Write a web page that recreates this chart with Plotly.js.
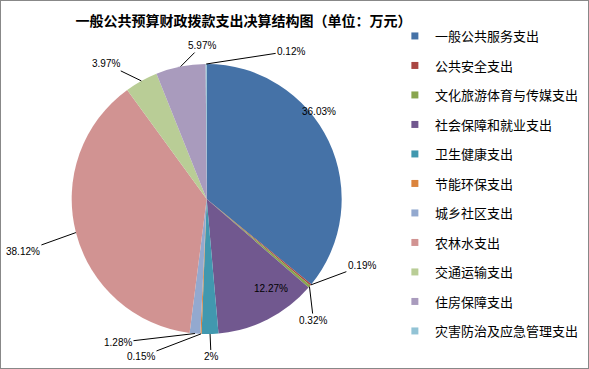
<!DOCTYPE html>
<html>
<head>
<meta charset="utf-8">
<script src="https://cdn.plot.ly/plotly-3.0.1.min.js"></script>
<style>
  html, body { margin: 0; padding: 0; background: #fff; }
  #chart { width: 587px; height: 367px; border: 1px solid #888888; }
</style>
</head>
<body>
<div id="chart"></div>
<script>
// ---- data ----
const categories = ['一般公共服务支出', '公共安全支出', '文化旅游体育与传媒支出', '社会保障和就业支出',
  '卫生健康支出', '节能环保支出', '城乡社区支出', '农林水支出', '交通运输支出', '住房保障支出',
  '灾害防治及应急管理支出'];
const values = [36.03, 0.19, 0.32, 12.27, 2, 0.15, 1.28, 38.12, 3.97, 5.97, 0.12];
const colors = ['#4572A7', '#AA4643', '#89A54E', '#71588F', '#4198AF', '#DB843D',
  '#93A9CF', '#D19392', '#B9CD96', '#A99BBD', '#92C3D5'];

// ---- label placement (style, not data): pixel offsets from each slice's mid-edge point ----
const labelInside = [true, false, false, true, false, false, false, false, false, false, false];
const labelOffsets = [[-10, -30], [51, -19], [4, 34], [3, -23], [1, 23], [-60, 23],
  [-77, 9], [-53, 19], [-35, -17], [21, -21], [85, -13]];

const W = 587, H = 367;
const dom = { x: [0.1204, 0.5804], y: [0.0926, 0.8283] };

const cx = (dom.x[0] + dom.x[1]) / 2 * W;
const cy = (1 - (dom.y[0] + dom.y[1]) / 2) * H;
const R = Math.min((dom.x[1] - dom.x[0]) * W, (dom.y[1] - dom.y[0]) * H) / 2;

const total = values.reduce((a, b) => a + b, 0);
let cum = 0;
const annotations = [];
values.forEach((v, i) => {
  const mid = (cum + v / 2) / total;
  cum += v;
  const th = 2 * Math.PI * mid;
  const px = cx + R * Math.sin(th);
  const py = cy - R * Math.cos(th);
  const off = labelOffsets[i];
  const base = {
    xref: 'paper', yref: 'paper', x: px / W, y: 1 - py / H,
    text: String(v) + '%',
    font: { family: 'Liberation Sans, Arial, sans-serif', size: 10, color: '#000' }
  };
  if (labelInside[i]) {
    annotations.push(Object.assign(base, { showarrow: false, xshift: off[0], yshift: -off[1] }));
  } else {
    annotations.push(Object.assign(base, {
      showarrow: true, arrowhead: 0, arrowwidth: 1, arrowcolor: '#000',
      ax: off[0], ay: off[1], standoff: 0, borderpad: 1
    }));
  }
});

const traces = [{
  type: 'pie',
  labels: categories,
  values: values,
  sort: false,
  direction: 'clockwise',
  rotation: 0,
  textinfo: 'none',
  hoverinfo: 'none',
  showlegend: false,
  domain: dom,
  marker: { colors: colors, line: { width: 0 } }
}];

// legend entries (one per category) so the spacing can match
categories.forEach((c, i) => {
  traces.push({
    type: 'scatter', mode: 'markers', x: [null], y: [null],
    name: c, legendgroup: 'g' + i, showlegend: true, hoverinfo: 'skip',
    marker: { symbol: 'square', size: 7, color: colors[i] }
  });
});

const layout = {
  width: W, height: H,
  margin: { l: 0, r: 0, t: 0, b: 0 },
  paper_bgcolor: '#fff', plot_bgcolor: '#fff',
  title: {
    text: '一般公共预算财政拨款支出决算结构图（单位：万元）',
    font: { family: 'Noto Sans CJK SC', size: 14, color: '#000', weight: 'bold' },
    x: 242.5 / W, xanchor: 'center', xref: 'paper',
    y: 1 - 20 / H, yanchor: 'middle', yref: 'container'
  },
  xaxis: { visible: false, fixedrange: true },
  yaxis: { visible: false, fixedrange: true },
  showlegend: true,
  legend: {
    x: 0.671, xanchor: 'left', y: 1 - 20 / H, yanchor: 'top',
    font: { family: 'Noto Sans CJK SC', size: 13, color: '#000' },
    tracegroupgap: 9.6, bgcolor: 'rgba(0,0,0,0)', traceorder: 'grouped'
  },
  annotations: annotations
};

Plotly.newPlot('chart', traces, layout, { staticPlot: true, displayModeBar: false });
</script>
</body>
</html>
